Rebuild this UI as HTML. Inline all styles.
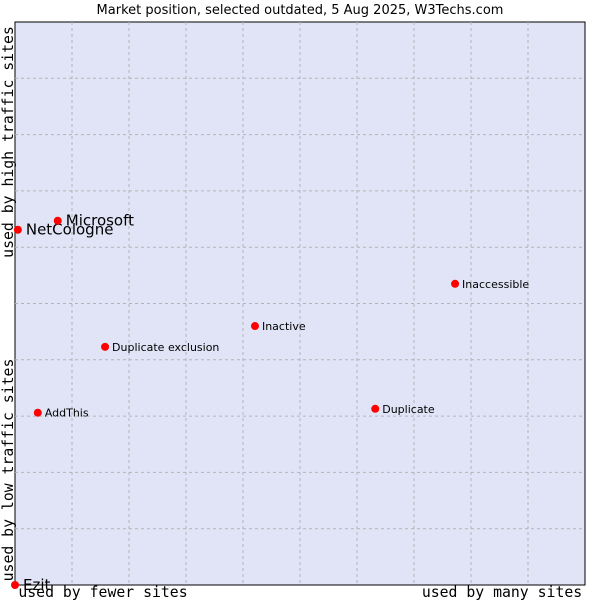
<!DOCTYPE html>
<html><head><meta charset="utf-8"><style>
body{margin:0;background:#fff;width:600px;height:600px;overflow:hidden}
svg{display:block}
</style></head><body>
<svg width="600" height="600" xmlns="http://www.w3.org/2000/svg">
<text x="300" y="14" text-anchor="middle" font-family="DejaVu Sans, sans-serif" font-size="13" fill="#000">Market position, selected outdated, 5 Aug 2025, W3Techs.com</text>
<rect x="15" y="22" width="570" height="563" fill="#e1e4f7" stroke="#000" stroke-width="1"/>
<g id="grid"></g>
<g id="pts"></g>
<text x="103" y="597" text-anchor="middle" font-family="DejaVu Sans Mono, Liberation Mono, monospace" font-size="14.8">used by fewer sites</text>
<text x="502" y="597" text-anchor="middle" font-family="DejaVu Sans Mono, Liberation Mono, monospace" font-size="14.8">used by many sites</text>
<text transform="translate(13,470) rotate(-90)" text-anchor="middle" font-family="DejaVu Sans Mono, Liberation Mono, monospace" font-size="14.8">used by low traffic sites</text>
<text transform="translate(13,142) rotate(-90)" text-anchor="middle" font-family="DejaVu Sans Mono, Liberation Mono, monospace" font-size="14.8">used by high traffic sites</text>
</svg>
<script>
const names=["Ezit","NetCologne","Microsoft","Inaccessible","Inactive","Duplicate exclusion","AddThis","Duplicate"];
const xVals=[0,0.5,7.5,77.2,42.1,15.8,4.0,63.2];
const yVals=[0,63.1,64.7,53.5,46.0,42.3,30.6,31.3];
const big=[true,true,true,false,false,false,false,false];
const L=15,T=22,W=570,H=563;
const sx=v=>L+v/100*W, sy=v=>T+H-v/100*H;
const NS="http://www.w3.org/2000/svg";
const g=document.getElementById('grid');
for(let i=1;i<10;i++){
 const x=L+i*W/10,y=T+i*H/10;
 const a=document.createElementNS(NS,'line');
 
 
 a.setAttribute('x1',x);a.setAttribute('x2',x);a.setAttribute('y1',T);a.setAttribute('y2',T+H);
 a.setAttribute('stroke','#b4b4b4');a.setAttribute('stroke-dasharray','3,3');g.appendChild(a);
 const b=document.createElementNS(NS,'line');
 
 
 b.setAttribute('x1',L);b.setAttribute('x2',L+W);b.setAttribute('y1',y);b.setAttribute('y2',y);
 b.setAttribute('stroke','#b4b4b4');b.setAttribute('stroke-dasharray','3,3');g.appendChild(b);
}
const p=document.getElementById('pts');
names.forEach((n,i)=>{
 const x=sx(xVals[i]),y=sy(yVals[i]);
 const c=document.createElementNS(NS,'circle');
 
 
 c.setAttribute('cx',x);c.setAttribute('cy',y);c.setAttribute('r',4);c.setAttribute('fill','#f00');p.appendChild(c);
 const t=document.createElementNS(NS,'text');
 
 
 t.setAttribute('x',x+(big[i]?8:7));t.setAttribute('y',y+(big[i]?5:4));
 t.setAttribute('font-family','DejaVu Sans, sans-serif');t.setAttribute('font-size',big[i]?15:11);
 t.textContent=n;p.appendChild(t);
});
</script>
</body></html>
